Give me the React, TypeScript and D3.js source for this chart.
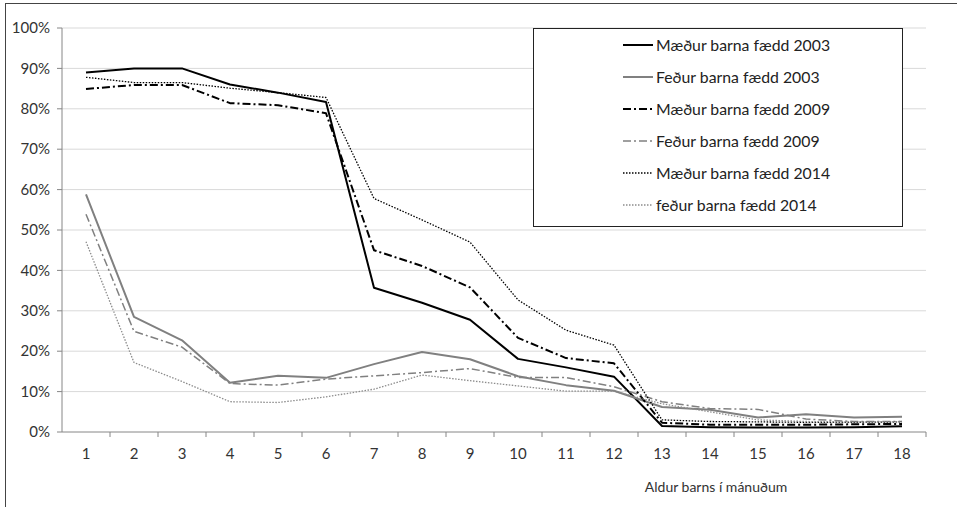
import React from "react";
import * as d3 from "d3";

const months = ["1","2","3","4","5","6","7","8","9","10","11","12","13","14","15","16","17","18"];
const yTicks = [0, 10, 20, 30, 40, 50, 60, 70, 80, 90, 100];

const m2003 = [89, 90, 90, 86, 84, 81.7, 35.7, 32, 27.8, 18.1, 16, 13.7, 1.5, 1.2, 1.1, 1.1, 1.2, 1.4];
const f2003 = [58.8, 28.5, 22.7, 12.2, 13.9, 13.4, 16.8, 19.8, 18, 13.8, 11.6, 10.2, 6.2, 5.5, 3.6, 4.4, 3.6, 3.8];
const m2009 = [84.9, 85.9, 85.9, 81.4, 80.9, 78.9, 45, 41.1, 35.8, 23.3, 18.3, 17, 2.3, 1.8, 1.8, 1.8, 1.9, 2];
const f2009 = [53.9, 24.9, 21, 12, 11.6, 13.1, 13.9, 14.7, 15.7, 13.5, 13.5, 11.2, 7.5, 5.8, 5.6, 3.2, 2.6, 2.6];
const m2014 = [87.8, 86.5, 86.5, 85.1, 84, 82.8, 57.8, 52.5, 47, 32.7, 25.2, 21.5, 3, 2.6, 2.5, 2.4, 2.4, 2.5];
const f2014 = [47.1, 17.2, 12.5, 7.5, 7.3, 8.7, 10.6, 14.1, 12.7, 11.4, 10.1, 10.1, 7, 5, 3, 2.6, 2.5, 2.6];

const seriesNames = [
  "Mæður barna fædd 2003",
  "Feður barna fædd 2003",
  "Mæður barna fædd 2009",
  "Feður barna fædd 2009",
  "Mæður barna fædd 2014",
  "feður barna fædd 2014",
];

const styles = [
  { color: "#000000", width: 2, dash: "" },
  { color: "#808080", width: 2, dash: "" },
  { color: "#000000", width: 2, dash: "8,3,2,3" },
  { color: "#808080", width: 1.5, dash: "8,3,2,3" },
  { color: "#000000", width: 1.3, dash: "1.5,1.5" },
  { color: "#8c8c8c", width: 1.3, dash: "1.5,1.5" },
];

const FONT = "Lato, 'Open Sans', sans-serif";

export default function App() {
  const W = 957, H = 507;
  const left = 62, right = 926, top = 28, bottom = 432;
  const x = d3.scaleBand<string>().domain(months).range([left, right]);
  const y = d3.scaleLinear().domain([0, 100]).range([bottom, top]);
  const data = [m2003, f2003, m2009, f2009, m2014, f2014];
  const line = d3
    .line<number>()
    .x((_, i) => (x(months[i]) as number) + x.bandwidth() / 2)
    .y((d) => y(d));

  const legX = 533, legY = 28, legW = 369, legH = 198;
  return (
    <svg width={W} height={H} style={{ position: "absolute", left: 0, top: 0, background: "#fff" }} fontFamily={FONT}>
      <rect x={0} y={0} width={W} height={H} fill="#fff" />
      <line x1={5} y1={3.5} x2={W} y2={3.5} stroke="#444" strokeWidth={1} />
      <line x1={5.5} y1={3} x2={5.5} y2={H} stroke="#444" strokeWidth={1} />
      {yTicks.map((t) => (
        <g key={t}>
          {t > 0 && (
            <line x1={left} x2={right} y1={y(t)} y2={y(t)} stroke="#d9d9d9" strokeWidth={1} />
          )}
          <line x1={left - 5} x2={left} y1={y(t)} y2={y(t)} stroke="#868686" />
          <text x={50} y={y(t)} dy="0.35em" textAnchor="end" fontSize={15} fill="#333">
            {t}%
          </text>
        </g>
      ))}
      <line x1={left} x2={left} y1={top} y2={bottom} stroke="#868686" />
      <line x1={left} x2={right} y1={bottom} y2={bottom} stroke="#868686" />
      {months.map((m) => (
        <g key={m}>
          <line
            x1={(x(m) as number) + x.bandwidth()}
            x2={(x(m) as number) + x.bandwidth()}
            y1={bottom}
            y2={bottom + 5}
            stroke="#868686"
          />
          <text
            x={(x(m) as number) + x.bandwidth() / 2}
            y={454}
            dy="0.35em"
            textAnchor="middle"
            fontSize={15}
            fill="#333"
          >
            {m}
          </text>
        </g>
      ))}
      {data.map((d, i) => (
        <path
          key={i}
          d={line(d) as string}
          fill="none"
          stroke={styles[i].color}
          strokeWidth={styles[i].width}
          strokeDasharray={styles[i].dash}
          strokeLinejoin="round"
        />
      ))}
      <text x={716} y={487} dy="0.35em" textAnchor="middle" fontSize={14} fill="#333">
        Aldur barns í mánuðum
      </text>
      <rect x={legX + 0.5} y={legY + 0.5} width={legW} height={legH} fill="#fff" stroke="#222" strokeWidth={1} />
      {seriesNames.map((n, i) => {
        const ly = 45 + i * 32;
        return (
          <g key={n}>
            <line
              x1={623}
              x2={653}
              y1={ly}
              y2={ly}
              stroke={styles[i].color}
              strokeWidth={styles[i].width}
              strokeDasharray={styles[i].dash}
            />
            <text x={656} y={ly} dy="0.35em" fontSize={15.8} fill="#222">
              {n}
            </text>
          </g>
        );
      })}
    </svg>
  );
}
